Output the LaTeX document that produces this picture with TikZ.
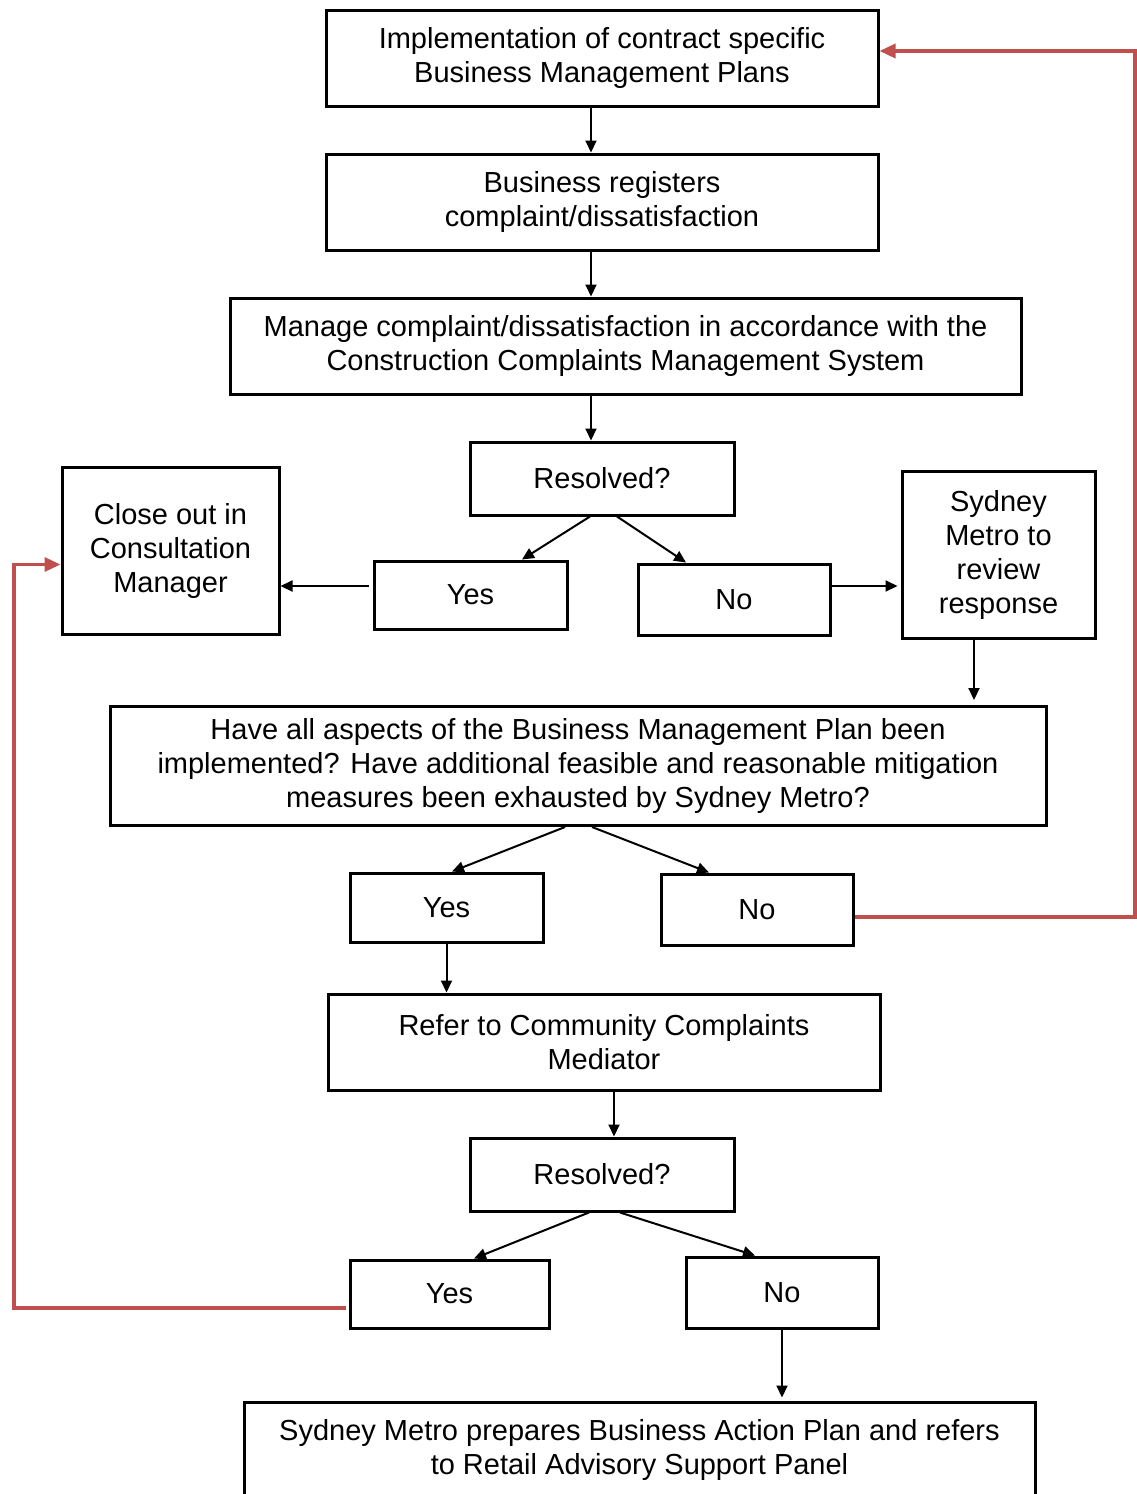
\documentclass[tikz,border=0pt]{standalone}
\usepackage{fontspec}
\setmainfont{Liberation Sans}
\usepackage{tikz}
\usetikzlibrary{arrows.meta}
\definecolor{loopred}{RGB}{192,80,77}

\begin{document}
\begin{tikzpicture}[x=1pt,y=-1pt,->,>={Triangle[length=12pt,width=11pt]},
                    line width=2pt,font=\fontsize{29}{34}\selectfont]
  \tikzstyle{every node}=[align=center,inner sep=0pt]
  \tikzstyle{box}=[draw,line width=3pt,->]
  \tikzstyle{red line}=[draw=loopred,line width=3.5pt,
                        -{Triangle[length=16pt,width=14pt]}]
  \useasboundingbox (0,0) rectangle (1137,1494);

  \node[box,minimum width=552pt,minimum height=96pt]  (impl)       at (602,58)      {Implementation of contract specific\\Business Management Plans};
  \node[box,minimum width=552pt,minimum height=96pt]  (registers)  at (602,202)     {Business registers\\complaint/dissatisfaction};
  \node[box,minimum width=791pt,minimum height=96pt]  (manage)     at (625.5,346)   {Manage complaint/dissatisfaction in accordance with the\\Construction Complaints Management System};
  \node[box,minimum width=264pt,minimum height=73pt]  (resolvedA)  at (602,478.5)   {Resolved?};
  \node[box,minimum width=217pt,minimum height=167pt] (closeout)   at (170.5,550.5) {Close out in\\Consultation\\Manager};
  \node[box,minimum width=193pt,minimum height=68pt]  (yesA)       at (470.5,595)   {Yes};
  \node[box,minimum width=192pt,minimum height=71pt]  (noA)        at (734,599.5)   {No};
  \node[box,minimum width=193pt,minimum height=167pt] (review)     at (998.5,554.5) {Sydney\\Metro to\\review\\response};
  \node[box,minimum width=936pt,minimum height=119pt] (aspects)    at (578,766)     {Have all aspects of the Business Management Plan been\\implemented? Have additional feasible and reasonable mitigation\\measures been exhausted by Sydney Metro?};
  \node[box,minimum width=193pt,minimum height=69pt]  (yesB)       at (446.5,907.5) {Yes};
  \node[box,minimum width=192pt,minimum height=71pt]  (noB)        at (757,909.5)   {No};
  \node[box,minimum width=552pt,minimum height=96pt]  (mediator)   at (604,1042)    {Refer to Community Complaints\\Mediator};
  \node[box,minimum width=264pt,minimum height=73pt]  (resolvedB)  at (602,1174.5)  {Resolved?};
  \node[box,minimum width=199pt,minimum height=68pt]  (yesC)       at (449.5,1294)  {Yes};
  \node[box,minimum width=192pt,minimum height=71pt]  (noC)        at (782,1292.5)  {No};
  \node[box,minimum width=791pt,minimum height=95pt]  (actionplan) at (639.5,1449.5) {Sydney Metro prepares Business Action Plan and refers\\to Retail Advisory Support Panel};

  \coordinate (rightrail) at (1135,0);
  \coordinate (leftrail)  at (14,0);

  % main flow
  \draw ([xshift=-11pt]impl.south) -- ([xshift=-11pt]impl.south |- registers.north);
  \draw ([xshift=-11pt]registers.south) -- ([xshift=-11pt]registers.south |- manage.north);
  \draw ([xshift=-34.5pt]manage.south) -- ([xshift=-34.5pt]manage.south |- resolvedA.north);
  \draw ([xshift=-12pt]resolvedA.south) -- ([xshift=51.5pt]yesA.north);
  \draw ([xshift=15pt]resolvedA.south) -- ([xshift=-48pt]noA.north);
  \draw[shorten <=4pt] ([yshift=9pt]yesA.west) -- ([yshift=9pt]yesA.west -| closeout.east);
  \draw[shorten >=3pt] ([yshift=13.5pt]noA.east) -- ([yshift=13.5pt]noA.east -| review.west);
  \draw[shorten >=5pt] ([xshift=-24.5pt]review.south) -- ([xshift=-24.5pt]review.south |- aspects.north);
  \draw ([xshift=-13pt]aspects.south) -- ([xshift=5.5pt]yesB.north);
  \draw ([xshift=14pt]aspects.south) -- ([xshift=-48pt]noB.north);
  \draw (yesB.south) -- (yesB.south |- mediator.north);
  \draw ([xshift=10pt]mediator.south) -- ([xshift=10pt]mediator.south |- resolvedB.north);
  \draw ([xshift=-13pt]resolvedB.south) -- ([xshift=24.5pt]yesC.north);
  \draw ([xshift=18pt]resolvedB.south) -- ([xshift=-27pt]noC.north);
  \draw[shorten >=3pt] (noC.south) -- (noC.south |- actionplan.north);

  % loops back
  \draw[red line] ([yshift=-7.5pt]noB.east) -- ([yshift=-7.5pt]noB.east -| rightrail)
                  |- ([yshift=7pt]impl.east);
  \draw[red line,shorten <=3pt] ([yshift=-14pt]yesC.west) -- ([yshift=-14pt]yesC.west -| leftrail)
                  |- ([yshift=-14pt]closeout.west);
\end{tikzpicture}
\end{document}
